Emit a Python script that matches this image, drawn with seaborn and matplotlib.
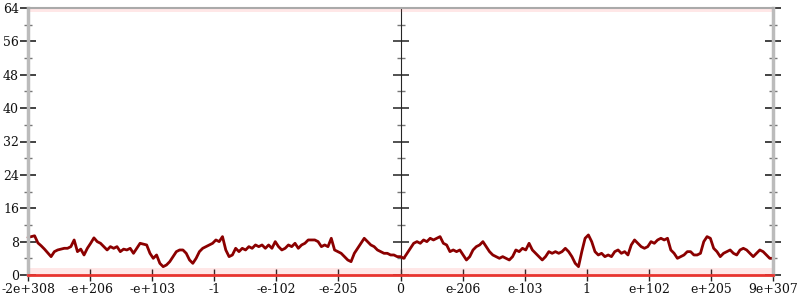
import numpy as np
import pandas as pd
import matplotlib
matplotlib.use("Agg")
import matplotlib.pyplot as plt
import seaborn as sns
from matplotlib.ticker import MultipleLocator, NullFormatter

tick_labels = ["-2e+308", "-e+206", "-e+103", "-1", "-e-102", "-e-205", "0",
               "e-206", "e-103", "1", "e+102", "e+205", "9e+307"]

values = [
    9.0, 9.2, 9.4, 7.7, 7.0, 6.2, 5.3, 4.4, 5.6, 6.0, 6.2, 6.4, 6.4, 6.8, 8.4, 5.6, 6.2, 4.8, 6.4, 7.6,
    8.9, 8.0, 7.6, 6.8, 6.0, 6.8, 6.4, 6.8, 5.6, 6.2, 6.0, 6.4, 5.2, 6.4, 7.6, 7.4, 7.2, 5.2, 4.0,
    4.8, 2.8, 2.0, 2.4, 3.2, 4.4, 5.6, 6.0, 6.0, 5.2, 3.6, 2.8, 4.0, 5.6, 6.4, 6.8, 7.2, 7.6, 8.4, 8.0,
    9.2, 6.0, 4.4, 4.8, 6.4, 5.6, 6.4, 6.0, 6.8, 6.4, 7.2, 6.8, 7.2, 6.4, 7.2, 6.4, 8.0, 6.8,
    6.0, 6.4, 7.2, 6.8, 7.6, 6.4, 7.2, 7.6, 8.4, 8.4, 8.4, 8.0, 6.8, 7.2, 6.8, 8.8, 6.0, 5.6, 5.2, 4.4,
    3.6, 3.2, 5.2, 6.4, 7.6, 8.8, 8.0, 7.2, 6.8, 6.0, 5.6, 5.2, 5.2, 4.8, 4.8, 4.4, 4.4,
    4.0, 5.2, 6.4, 7.6, 8.0, 7.6, 8.4, 8.0, 8.8, 8.4, 8.8, 9.2, 7.6, 7.2, 5.6, 6.0, 5.6, 6.0, 4.8, 3.6,
    4.4, 6.0, 6.8, 7.2, 8.0, 6.8, 5.6, 4.8, 4.4, 4.0, 4.4, 4.0, 3.6, 4.4, 6.0, 5.6, 6.4, 6.0,
    7.6, 6.0, 5.2, 4.4, 3.6, 4.4, 5.6, 5.2, 5.6, 5.2, 5.6, 6.4, 5.6, 4.4, 2.8, 2.0, 5.6, 8.8, 9.6, 8.0,
    5.6, 4.8, 5.2, 4.4, 4.8, 4.4, 5.6, 6.0, 5.2, 5.6, 4.8, 7.2, 8.4, 7.6, 6.8, 6.4, 6.8, 8.0, 7.6,
    8.4, 8.8, 8.4, 8.8, 6.0, 5.2, 4.0, 4.4, 4.8, 5.6, 5.6, 4.8, 4.8, 5.2, 8.0, 9.2, 8.8, 6.4, 5.6, 4.4,
    5.2, 5.6, 6.0, 5.2, 4.8, 6.0, 6.4, 6.0, 5.2, 4.4, 5.2, 6.0, 5.6, 4.8, 4.0, 4.0,
]

n_pos = len(tick_labels) - 1
df = pd.DataFrame({"pos": np.linspace(0, n_pos, len(values)), "count": values})

sns.set_style("white")
plt.rcParams["font.family"] = ["DejaVu Serif"]

fig = plt.figure(figsize=(8, 3), dpi=100)
ax = fig.add_axes([28 / 800, 25 / 300, 745 / 800, 267 / 300])

# faint bands near 0 and 64
ax.axhspan(0, 1.7, color="#ff4040", alpha=0.12, lw=0)
ax.axhspan(63.0, 64, color="#ff4040", alpha=0.12, lw=0)

sns.lineplot(data=df, x="pos", y="count", color="#8b0000", lw=2.0, ax=ax, clip_on=False)

ax.set_xlim(0, n_pos)
ax.set_ylim(0, 64)
ax.set_xlabel("")
ax.set_ylabel("")
ax.set_xticks(range(len(tick_labels)))
ax.set_xticklabels(tick_labels)
ax.yaxis.set_major_locator(MultipleLocator(8))
ax.yaxis.set_minor_locator(MultipleLocator(4))

for s in ["left", "right"]:
    ax.spines[s].set_color("#bbbbbb")
    ax.spines[s].set_linewidth(2.5)
ax.spines["top"].set_color("#aaaaaa")
ax.spines["top"].set_linewidth(1.5)
ax.spines["bottom"].set_color("#e8342f")
ax.spines["bottom"].set_linewidth(2.0)

ax.tick_params(axis="y", which="major", direction="inout", length=11, width=1.2,
               color="#222222", left=True, right=True, labelsize=9, pad=1)
ax.tick_params(axis="y", which="minor", direction="inout", length=6, width=1,
               color="#777777", left=True, right=True)
ax.tick_params(axis="x", which="major", direction="inout", length=8, width=1,
               color="#222222", bottom=True, labelsize=9, pad=2)

mid = ax.secondary_yaxis(0.5)
mid.yaxis.set_major_locator(MultipleLocator(8))
mid.yaxis.set_minor_locator(MultipleLocator(4))
mid.yaxis.set_major_formatter(NullFormatter())
mid.spines["left"].set_color("#bbbbbb")
mid.spines["left"].set_linewidth(2.5)
mid.tick_params(axis="y", which="major", direction="inout", length=11, width=1.2,
                color="#333333", labelleft=False, labelright=False)
mid.tick_params(axis="y", which="minor", direction="inout", length=6, width=1,
                color="#777777")

for lab in ax.get_yticklabels() + ax.get_xticklabels():
    lab.set_color("#111111")

fig.savefig("out.png", dpi=100, facecolor="white")
